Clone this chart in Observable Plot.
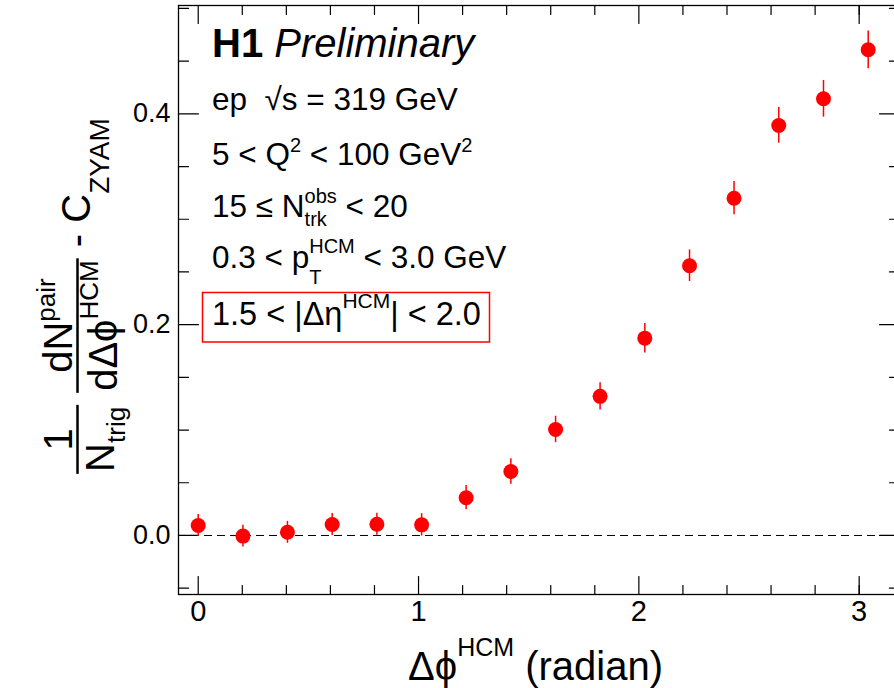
<!DOCTYPE html>
<html>
<head>
<meta charset="utf-8">
<script src="https://cdn.jsdelivr.net/npm/d3@7"></script>
<script src="https://cdn.jsdelivr.net/npm/@observablehq/plot@0.6"></script>
<style>
  html, body { margin: 0; padding: 0; background: #fff; overflow: hidden; }
  #chart { width: 894px; height: 688px; overflow: hidden; }
  #chart svg { max-width: none !important; }
  #chart svg text { white-space: pre; }
</style>
</head>
<body>
<div id="chart"></div>
<script>
// Azimuthal pair yield (ZYAM-subtracted), 1.5 < |Δη| < 2.0
const dphi = [0.000, 0.203, 0.405, 0.608, 0.811, 1.014, 1.216, 1.419,
              1.622, 1.824, 2.027, 2.230, 2.432, 2.635, 2.838, 3.041];
const yieldVals = [0.0095, -0.0006, 0.0030, 0.0104, 0.0107, 0.0101, 0.0358, 0.0607,
                   0.1006, 0.1320, 0.1872, 0.2559, 0.3200, 0.3890, 0.4143, 0.4608];
const yieldErr = [0.0104, 0.0104, 0.0104, 0.0105, 0.0105, 0.0106, 0.0115, 0.0120,
                  0.0125, 0.0130, 0.0140, 0.0150, 0.0158, 0.0170, 0.0174, 0.0179];

const xMajor = [0, 1, 2, 3];
const xMinor = [0.2, 0.4, 0.6, 0.8, 1.2, 1.4, 1.6, 1.8, 2.2, 2.4, 2.6, 2.8, 3.0];
const yMajor = [0, 0.2, 0.4];
const yMinor = [-0.05, 0.05, 0.1, 0.15, 0.25, 0.3, 0.35, 0.45, 0.5];

const points = dphi.map((x, i) => ({x, y: yieldVals[i], lo: yieldVals[i] - yieldErr[i], hi: yieldVals[i] + yieldErr[i]}));

const FONT = "'Liberation Sans', Arial, Helvetica, sans-serif";

// straight tick line pointing away from its anchor
const tickShape = {draw(ctx, l) { ctx.moveTo(0, 0); ctx.lineTo(0, -l); }};
const ticks = (values, side, len) => {
  const rot = {bottom: 0, top: 180, left: 90, right: -90}[side];
  const ch = side === "bottom" || side === "top" ? {x: d => d} : {y: d => d};
  return Plot.vector(values, {...ch, frameAnchor: side, rotate: rot, length: len, anchor: "start",
    shape: tickShape, stroke: "black", strokeWidth: 1.2});
};

const plot = Plot.plot({
  width: 904,
  height: 688,
  marginLeft: 178,
  marginRight: 5,
  marginTop: 5,
  marginBottom: 94,
  x: {domain: [-0.0895, 3.183], axis: null},
  y: {domain: [-0.056, 0.5028], axis: null},
  style: {fontFamily: FONT, background: "white", color: "black", overflow: "visible", maxWidth: "none"},
  marks: [
    Plot.ruleY([0], {stroke: "black", strokeWidth: 1, strokeDasharray: "8,5"}),
    ticks(xMajor, "bottom", 18), ticks(xMinor, "bottom", 9),
    ticks(xMajor, "top", 18), ticks(xMinor, "top", 9),
    ticks(yMajor, "left", 20), ticks(yMinor, "left", 10),
    ticks(yMajor, "right", 20), ticks(yMinor, "right", 10),
    Plot.axisX({ticks: xMajor, tickSize: 0, tickPadding: 6, fontSize: 29, tickFormat: d => String(d), label: null}),
    Plot.axisY({ticks: yMajor, tickSize: 0, tickPadding: 8, fontSize: 27, tickFormat: d3.format(".1f"), label: null}),
    Plot.ruleX(points, {x: "x", y1: "lo", y2: "hi", stroke: "#ff0000", strokeWidth: 1.5}),
    Plot.dot(points, {x: "x", y: "y", r: 7.5, fill: "#ff0000", stroke: "none"}),
    Plot.frame({stroke: "black", strokeWidth: 1.3})
  ]
});
document.getElementById("chart").appendChild(plot);

// ---- rich text helpers (sub/superscripts) ----
const svg = d3.select(plot);
const put = (parent, x, y, text, size, o = {}) => {
  const t = parent.append("text").attr("x", x).attr("y", y).attr("font-size", size)
    .attr("font-family", FONT).attr("text-anchor", "start").attr("fill", o.fill || "black").text(text);
  if (o.bold) t.attr("font-weight", "bold");
  if (o.italic) t.attr("font-style", "italic");
  return t.node().getComputedTextLength();
};
const run = (parent, x, y, segs) => {
  let cx = x;
  for (const s of segs) {
    if (s.stack) cx += Math.max(...s.stack.map(p => put(parent, cx, y + p.dy, p.text, p.size)));
    else cx += put(parent, cx, y + (s.dy || 0), s.text, s.size, s);
  }
  return cx - x;
};

// ---- annotation block ----
const ann = svg.append("g").attr("text-anchor", "start");
const F = 31.5, S = 20;
run(ann, 212, 57, [{text: "H1", size: 40, bold: true}, {text: " Preliminary", size: 40, italic: true}]);
run(ann, 212, 110, [{text: "ep  √s = 319 GeV", size: F}]);
run(ann, 212, 165, [{text: "5 < Q", size: F}, {text: "2", size: S, dy: -13}, {text: " < 100 GeV", size: F}, {text: "2", size: S, dy: -13}]);
run(ann, 212, 217, [{text: "15 ≤ N", size: F}, {stack: [{text: "obs", size: S, dy: -14}, {text: "trk", size: S, dy: 9}]}, {text: " < 20", size: F}]);
run(ann, 212, 268, [{text: "0.3 < p", size: F}, {stack: [{text: "HCM", size: S, dy: -15}, {text: "T", size: S, dy: 16}]}, {text: " < 3.0 GeV", size: F}]);
run(ann, 212, 325, [{text: "1.5 < |Δη", size: 32.5}, {text: "HCM", size: 21, dy: -17}, {text: "| < 2.0", size: 32.5}]);
ann.append("rect").attr("x", 202.5).attr("y", 292.5).attr("width", 287).attr("height", 49.5)
  .attr("fill", "none").attr("stroke", "#ff0000").attr("stroke-width", 1.5);

// ---- x-axis title ----
const xt = svg.append("g").attr("text-anchor", "start");
run(xt, 408, 680, [{text: "Δϕ", size: 40}, {text: "HCM", size: 25, dy: -24}, {text: " (radian)", size: 40}]);

// ---- y-axis title, rotated ----
const YF = 40, YS = 26;
const yt = svg.append("g").attr("text-anchor", "start");
const frac = (u, numSegs, denSegs, numV, denV) => {
  const gn = yt.append("g"), gd = yt.append("g");
  const wn = run(gn, 0, numV, numSegs), wd = run(gd, 0, denV, denSegs);
  const L = Math.max(wn, wd) + 4;
  gn.attr("transform", `translate(${u + (L - wn) / 2},0)`);
  gd.attr("transform", `translate(${u + (L - wd) / 2},0)`);
  yt.append("line").attr("x1", u).attr("x2", u + L).attr("y1", 0).attr("y2", 0)
    .attr("stroke", "black").attr("stroke-width", 2.5);
  return L;
};
let u = 0;
u += frac(u, [{text: "1", size: YF}], [{text: "N", size: YF}, {text: "trig", size: YS, dy: 11}], -6, 36);
u += 12;
u += frac(u, [{text: "dN", size: YF}, {text: "pair", size: YS, dy: -17}],
             [{text: "dΔϕ", size: YF}, {text: "HCM", size: YS, dy: -19}], -6, 39);
u += run(yt, u, 12, [{text: " - C", size: YF}, {text: "ZYAM", size: 28, dy: 19}]);
const yCenter = 296;
yt.attr("transform", `translate(77.5,${yCenter + u / 2}) rotate(-90)`);
</script>
</body>
</html>
